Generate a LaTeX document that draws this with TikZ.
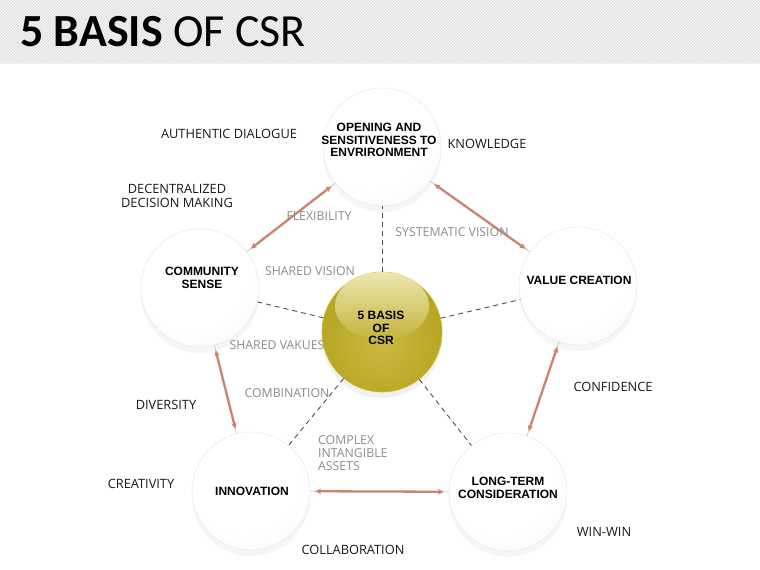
\documentclass[tikz,border=0pt]{standalone}
\usepackage{fontspec}
\setmainfont{Open Sans}
\newfontfamily\titlefont{Carlito}
\newfontfamily\boldfont{Liberation Sans}
\usetikzlibrary{shadows,arrows.meta,shapes.geometric}
\definecolor{arrowc}{HTML}{C98570}
\definecolor{lbl}{HTML}{8C8C8C}
\definecolor{dashc}{HTML}{505050}
\definecolor{hdr}{HTML}{DDDDDD}
\definecolor{olA}{HTML}{C9B940}
\definecolor{olB}{HTML}{B8A624}
\definecolor{olC}{HTML}{A69516}
\definecolor{olD}{HTML}{958510}
\definecolor{hiA}{HTML}{EDE6B2}
\definecolor{hiB}{HTML}{C4B43A}
\pgfdeclareradialshading{whitesphere}{\pgfpoint{-6bp}{10bp}}{color(0bp)=(white); color(24bp)=(white); color(42bp)=(black!4); color(54bp)=(black!10); color(62bp)=(black!13)}
\pgfdeclareradialshading{olivesphere}{\pgfpoint{0bp}{-6bp}}{color(0bp)=(olA); color(25bp)=(olB); color(45bp)=(olC); color(58bp)=(olD); color(70bp)=(olD)}
\tikzset{
  ball/.style={circle, minimum size=118pt, inner sep=0pt, shading=whitesphere, draw=black!10, line width=0.4pt,
     drop shadow={shadow xshift=0pt, shadow yshift=-6pt, opacity=0.035, fill=black}},
  inball/.style={font=\boldfont\bfseries\fontsize{12}{12.6}\selectfont, align=center, inner sep=0pt},
  outlbl/.style={font=\fontsize{12.8}{14}\selectfont, align=center, inner sep=0pt, text=black!90},
  graylbl/.style={font=\fontsize{12.3}{13.3}\selectfont, align=center, inner sep=0pt, text=lbl},
  dashline/.style={draw=dashc, line width=0.9pt, dash pattern=on 5pt off 4pt},
  thinline/.style={draw=black!30, line width=0.5pt},
  dblarrow/.style={draw=arrowc, line width=2.3pt, {Stealth[length=6pt,width=5.5pt]}-{Stealth[length=6pt,width=5.5pt]}, shorten <=5pt, shorten >=5pt}
}
\begin{document}
\begin{tikzpicture}[x=1pt,y=-1pt]
\useasboundingbox (0,0) rectangle (760,570);
\fill[white] (0,0) rectangle (760,570);
% header
\fill[hdr] (0,0) rectangle (760,62);
\begin{scope}
\clip (0,0) rectangle (760,62);
\foreach \i in {-70,-67,...,760} {
  \draw[white!75!hdr, line width=0.9pt] (\i,62) -- (\i+62,0);
}
\end{scope}
\fill[black!6] (0,62) rectangle (760,64);
\node[anchor=base west, inner sep=0pt, font=\titlefont\fontsize{46}{46}\selectfont] (title) at (20,46) {\textbf{5 BASIS} OF CSR};

% spheres
\node[ball] (op) at (382,147) {};
\node[ball] (vc) at (578,286) {};
\node[ball] (lt) at (508,492) {};
\node[ball] (inn) at (251,491) {};
\node[ball] (cs) at (200,288) {};
\node[circle, minimum size=120pt, inner sep=0pt, shading=olivesphere, draw=olB!70!yellow, line width=0.6pt,
   drop shadow={shadow xshift=0pt, shadow yshift=-6pt, opacity=0.06, fill=black}] (c) at (382,332) {};
\shade[top color=hiA, bottom color=hiB] (382,306) ellipse [x radius=47pt, y radius=34pt];

% dashed spokes
\draw[dashline] (c) -- (op);
\draw[dashline] (c) -- (vc);
\draw[dashline] (c) -- (lt);
\draw[dashline] (c) -- (inn);
\draw[dashline] (c) -- (cs);

% ring arrows
\foreach \a/\b in {op/vc, vc/lt, lt/inn, inn/cs, cs/op} {
  \draw[thinline] (\a) -- (\b);
  \draw[dblarrow] (\a) -- (\b);
}

% texts inside spheres
\node[inball] (tOp) at (379,140) {OPENING AND\\SENSITIVENESS TO\\ENVRIRONMENT};
\node[inball] (tVc) at (579,280) {VALUE CREATION};
\node[inball] (tLt) at (508,488) {LONG-TERM\\CONSIDERATION};
\node[inball] (tIn) at (252,491) {INNOVATION};
\node[inball] (tCs) at (202,278) {COMMUNITY\\SENSE};
\node[inball] (tC) at (381,328) {5 BASIS\\OF\\CSR};

% outer labels
\node[outlbl] (l1) at (229,134) {AUTHENTIC DIALOGUE};
\node[outlbl] (l2) at (487,144) {KNOWLEDGE};
\node[outlbl] (l3) at (177,196) {DECENTRALIZED\\DECISION MAKING};
\node[outlbl] (l4) at (613,387) {CONFIDENCE};
\node[outlbl] (l5) at (166,405) {DIVERSITY};
\node[outlbl] (l6) at (141,484) {CREATIVITY};
\node[outlbl] (l7) at (604,532) {WIN-WIN};
\node[outlbl] (l8) at (353,550) {COLLABORATION};

% gray labels
\node[graylbl] (g1) at (319,216) {FLEXIBILITY};
\node[graylbl] (g2) at (452,232) {SYSTEMATIC VISION};
\node[graylbl] (g3) at (310,271) {SHARED VISION};
\node[graylbl] (g4) at (277,345) {SHARED VAKUES};
\node[graylbl] (g5) at (287,393) {COMBINATION};
\node[graylbl, align=left, anchor=west] (g6) at (318,453) {COMPLEX\\INTANGIBLE\\ASSETS};
\end{tikzpicture}
\end{document}
